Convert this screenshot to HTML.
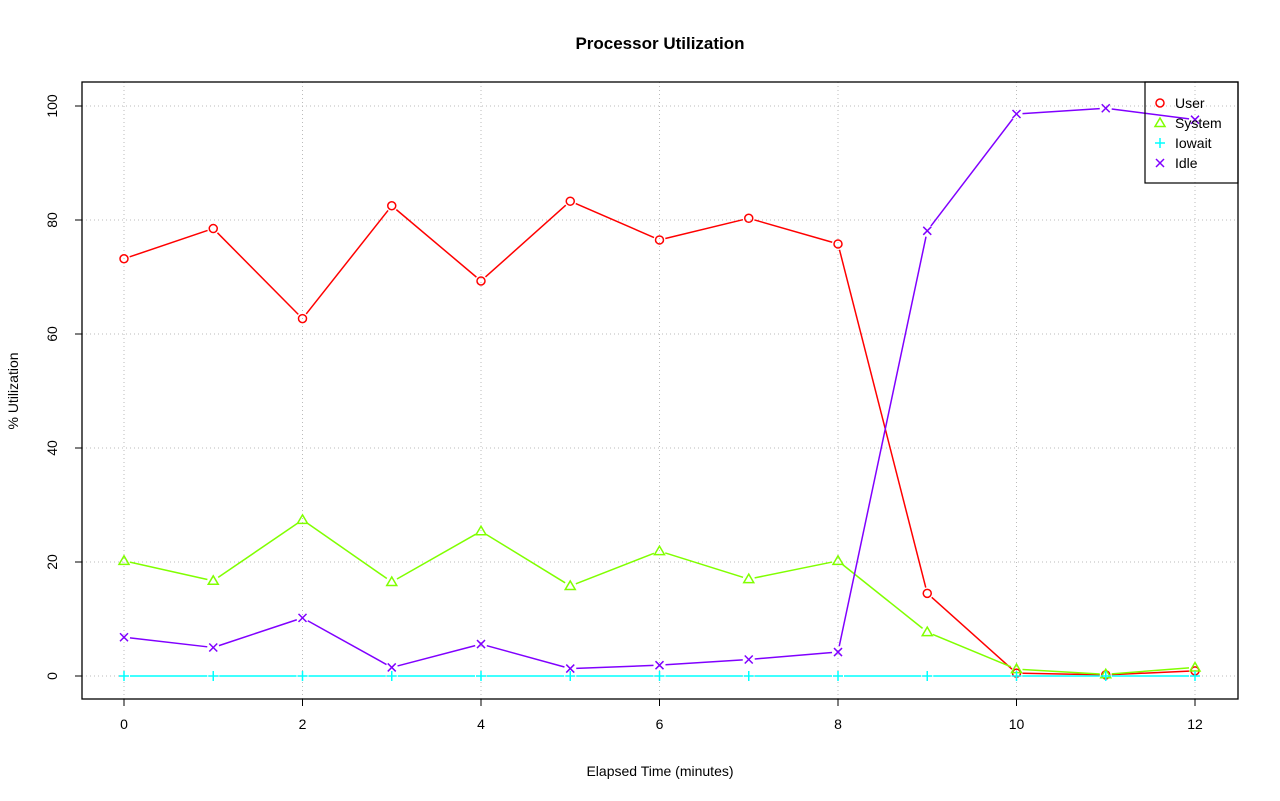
<!DOCTYPE html>
<html><head><meta charset="utf-8"><style>
body{margin:0;background:#fff;}
svg{display:block;font-family:"Liberation Sans",sans-serif;}
</style></head><body>
<svg id="chart" width="1280" height="801">
<text x="660" y="49" text-anchor="middle" font-size="17" font-weight="bold">Processor Utilization</text>
<text x="660" y="776" text-anchor="middle" font-size="14">Elapsed Time (minutes)</text>
<text transform="translate(18,391) rotate(-90)" text-anchor="middle" font-size="14">% Utilization</text>
<g id="grid"></g><g id="axes"></g><g id="series"></g>
<rect x="82" y="82" width="1156" height="617" fill="none" stroke="#000" stroke-width="1.3"/>
<g id="legend">
<rect x="1145" y="82" width="93" height="101" fill="none" stroke="#000" stroke-width="1.2"/>
</g>
</svg>
<script>
const minutes=[0,1,2,3,4,5,6,7,8,9,10,11,12];
const userVals=[73.2,78.5,62.7,82.5,69.3,83.3,76.5,80.3,75.8,14.5,0.5,0.2,0.9];
const systemVals=[20.2,16.7,27.4,16.5,25.4,15.8,21.9,17.0,20.2,7.7,1.2,0.3,1.5];
const iowaitVals=[0,0,0,0,0,0,0,0,0,0,0,0,0];
const idleVals=[6.8,5.0,10.2,1.5,5.6,1.3,1.9,2.9,4.2,78.1,98.6,99.6,97.6];
const xTicks=[0,2,4,6,8,10,12];
const yTicks=[0,20,40,60,80,100];
const seriesNames=["User","System","Iowait","Idle"];
const NS="http://www.w3.org/2000/svg";
const X=v=>124+v*(1195-124)/12;
const Y=v=>676-v*5.7;
function mk(tag,attrs,parent){const e=document.createElementNS(NS,tag);for(const k in attrs)e.setAttribute(k,attrs[k]);parent.appendChild(e);return e;}
const grid=document.getElementById('grid'),axes=document.getElementById('axes'),ser=document.getElementById('series'),leg=document.getElementById('legend');
xTicks.forEach(t=>{
 const g=mk('line',{x1:X(t),x2:X(t),y1:82,y2:699,stroke:'#bbb','stroke-dasharray':'1,3'},grid);
 
 
 const tk=mk('line',{x1:X(t),x2:X(t),y1:699,y2:706,stroke:'#000'},axes);
 
 
 const tx=mk('text',{x:X(t),y:729,'text-anchor':'middle','font-size':14},axes);tx.textContent=t;
 
 
});
mk('line',{x1:X(0),x2:X(12),y1:699,y2:699,stroke:'#000'},axes);
yTicks.forEach(t=>{
 const g=mk('line',{x1:82,x2:1238,y1:Y(t),y2:Y(t),stroke:'#bbb','stroke-dasharray':'1,3'},grid);
 
 
 const tk=mk('line',{x1:75,x2:82,y1:Y(t),y2:Y(t),stroke:'#000'},axes);
 
 
 const tx=mk('text',{transform:`translate(57,${Y(t)}) rotate(-90)`,'text-anchor':'middle','font-size':14},axes);tx.textContent=t;
 
 
});
function marker(type,x,y,c,p){
 if(type==='o')mk('circle',{cx:x,cy:y,r:4,fill:'none',stroke:c,'stroke-width':1.5},p);
 else if(type==='t')mk('polygon',{points:`${x},${y-5} ${x-5},${y+3.5} ${x+5},${y+3.5}`,fill:'none',stroke:c,'stroke-width':1.5},p);
 else if(type==='+'){mk('line',{x1:x-5,x2:x+5,y1:y,y2:y,stroke:c,'stroke-width':1.5},p);mk('line',{x1:x,x2:x,y1:y-5,y2:y+5,stroke:c,'stroke-width':1.5},p);}
 else {mk('line',{x1:x-4,x2:x+4,y1:y-4,y2:y+4,stroke:c,'stroke-width':1.5},p);mk('line',{x1:x-4,x2:x+4,y1:y+4,y2:y-4,stroke:c,'stroke-width':1.5},p);}
}
const allVals=[userVals,systemVals,iowaitVals,idleVals];
const colors=['#ff0000','#80ff00','#00ffff','#8000ff'];
const marks=['o','t','+','x'];
const sNames=['user','system','iowait','idle'];
allVals.forEach((vals,i)=>{
 const g=mk('g',{},ser);
 
 
 const pts=minutes.map((m,j)=>[X(m),Y(vals[j])]);
 for(let j=0;j<pts.length-1;j++){
  const [x1,y1]=pts[j],[x2,y2]=pts[j+1];const d=Math.hypot(x2-x1,y2-y1);
  if(d<12)continue;const ux=(x2-x1)/d,uy=(y2-y1)/d;
  mk('line',{x1:x1+ux*6,y1:y1+uy*6,x2:x2-ux*6,y2:y2-uy*6,stroke:colors[i],'stroke-width':1.5},g);
 }
 pts.forEach(([x,y])=>marker(marks[i],x,y,colors[i],g));
 const ly=103+i*20;
 const le=mk('g',{},leg);
 
 
 marker(marks[i],1160,ly,colors[i],le);
 const t=mk('text',{x:1175,y:ly+5,'font-size':14},le);t.textContent=seriesNames[i];
});
</script>
</body></html>
